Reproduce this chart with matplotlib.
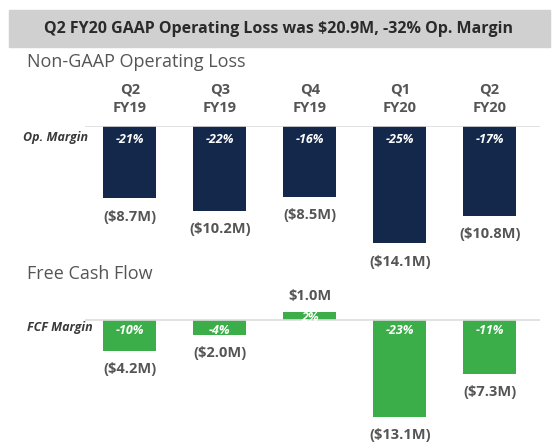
import numpy as np
import matplotlib.pyplot as plt
from matplotlib.patches import Rectangle

plt.rcParams['font.family'] = ['Open Sans', 'DejaVu Sans']

# --- data ---
quarters = ["Q2\nFY19", "Q3\nFY19", "Q4\nFY19", "Q1\nFY20", "Q2\nFY20"]
op_loss = [-8.7, -10.2, -8.5, -14.1, -10.8]
op_margin = ["-21%", "-22%", "-16%", "-25%", "-17%"]
op_labels = ["($8.7M)", "($10.2M)", "($8.5M)", "($14.1M)", "($10.8M)"]
fcf = [-4.2, -2.0, 1.0, -13.1, -7.3]
fcf_margin = ["-10%", "-4%", "2%", "-23%", "-11%"]
fcf_labels = ["($4.2M)", "($2.0M)", "$1.0M", "($13.1M)", "($7.3M)"]

NAVY = "#14284b"
GREEN = "#3cae49"
GRAY = "#555555"

W, H = 560, 446
fig = plt.figure(figsize=(W / 100, H / 100), dpi=100)


def px_axes(left, top, right, bottom):
    # axes from pixel box (top-left origin)
    return fig.add_axes([left / W, 1 - bottom / H, (right - left) / W, (bottom - top) / H])


# title bar
fig.patches.append(Rectangle((9 / W, 1 - 47 / H), 541 / W, 37 / H,
                             transform=fig.transFigure, color="#d0d0d0", zorder=0))
fig.text(278 / W, 1 - 29 / H, "Q2 FY20 GAAP Operating Loss was $20.9M, -32% Op. Margin",
         ha="center", va="center", fontsize=11.5, fontweight="bold", color="#2a2a2a")

fig.text(27 / W, 1 - 62 / H, "Non-GAAP Operating Loss", ha="left", va="center",
         fontsize=13, color=GRAY)
fig.text(27 / W, 1 - 274 / H, "Free Cash Flow", ha="left", va="center",
         fontsize=13, color=GRAY)

x = np.arange(len(quarters))
xlim = (-0.5, 4.56)
bw = 0.59

# --- top panel: non-GAAP operating loss ---
ax1 = px_axes(85, 126, 540, 251)
ax1.bar(x, op_loss, width=bw, color=NAVY)
ax1.set_xlim(*xlim)
ax1.set_ylim(-15, 0)
ax1.axhline(0, color="#dddddd", lw=1.2, zorder=3)
for i in range(len(x)):
    ax1.annotate(op_margin[i], (x[i], 0), xytext=(0, -10), textcoords="offset points",
                 ha="center", va="center", color="white", fontsize=9,
                 fontweight="bold", fontstyle="italic")
    ax1.annotate(op_labels[i], (x[i], op_loss[i]), xytext=(0, -13), textcoords="offset points",
                 ha="center", va="center", color=GRAY, fontsize=10.5, fontweight="bold",
                 annotation_clip=False)
    ax1.annotate(quarters[i], (x[i], 0), xytext=(0, 19.5), textcoords="offset points",
                 ha="center", va="center", color=GRAY, fontsize=10.5,
                 fontweight="bold", linespacing=1.45, annotation_clip=False)
ax1.axis("off")
fig.text(88 / W, 1 - 138 / H, "Op. Margin", ha="right", va="center", fontsize=9,
         fontweight="bold", fontstyle="italic", color="#3a3a3a")

# --- bottom panel: free cash flow ---
ax2 = px_axes(85, 305, 540, 424)
ax2.bar(x, fcf, width=bw, color=GREEN)
ax2.set_xlim(*xlim)
ax2.set_ylim(-14, 2)
ax2.axhline(0, color="#dddddd", lw=1.2, zorder=3)
for i in range(len(x)):
    if fcf[i] < 0:
        ax2.annotate(fcf_margin[i], (x[i], 0), xytext=(0, -8), textcoords="offset points",
                     ha="center", va="center", color="white", fontsize=9,
                     fontweight="bold", fontstyle="italic")
        ax2.annotate(fcf_labels[i], (x[i], fcf[i]), xytext=(0, -13), textcoords="offset points",
                     ha="center", va="center", color=GRAY, fontsize=10.5, fontweight="bold",
                     annotation_clip=False)
    else:
        ax2.annotate(fcf_margin[i], (x[i], 0), xytext=(0, 2), textcoords="offset points",
                     ha="center", va="center", color="white", fontsize=9,
                     fontweight="bold", fontstyle="italic")
        ax2.annotate(fcf_labels[i], (x[i], fcf[i]), xytext=(0, 12), textcoords="offset points",
                     ha="center", va="center", color=GRAY, fontsize=10.5, fontweight="bold",
                     annotation_clip=False)
ax2.axis("off")
fig.text(93 / W, 1 - 327 / H, "FCF Margin", ha="right", va="center", fontsize=9,
         fontweight="bold", fontstyle="italic", color="#3a3a3a")

fig.savefig("out.png", dpi=100)
